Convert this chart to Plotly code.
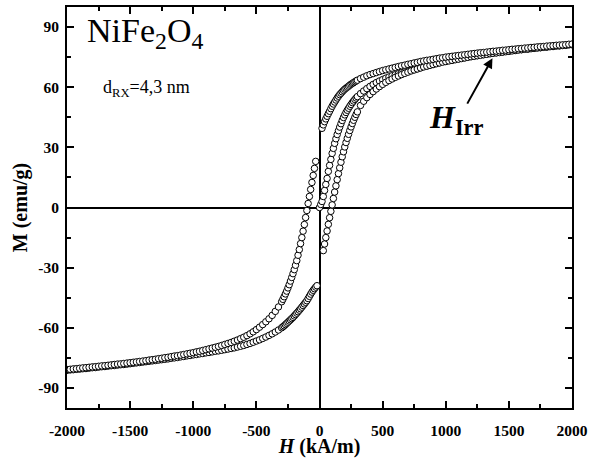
import plotly.graph_objects as go

# ---------------- data ----------------
# applied field grid (kA/m) shared by the descending and ascending branches
H_GRID = [
    -2000, -1975, -1950, -1925, -1900, -1875, -1850, -1825, -1800, -1775,
    -1750, -1725, -1700, -1675, -1650, -1625, -1600, -1575, -1550, -1525,
    -1500, -1475, -1450, -1425, -1400, -1375, -1350, -1325, -1300, -1275,
    -1250, -1225, -1200, -1175, -1150, -1125, -1100, -1075, -1050, -1025,
    -1000, -975, -950, -925, -900, -875, -850, -825, -800, -775,
    -750, -725, -700, -675, -650, -625, -600, -575, -550, -525,
    -500, -475, -450, -425, -400, -375, -350, -325,
    -300, -290, -280, -270, -260, -250, -240, -230, -220, -210,
    -200, -190, -180, -170, -160, -150, -140, -130, -120, -110,
    -100, -90, -80, -70, -60, -50, -40, -30, -20, -10,
    0, 10, 20, 30, 40, 50, 60, 70, 80, 90,
    100, 110, 120, 130, 140, 150, 160, 170, 180, 190,
    200, 210, 220, 230, 240, 250, 260, 270, 280, 290, 300,
    325, 350, 375, 400, 425, 450, 475, 500, 525, 550,
    575, 600, 625, 650, 675, 700, 725, 750, 775, 800,
    825, 850, 875, 900, 925, 950, 975, 1000, 1025, 1050,
    1075, 1100, 1125, 1150, 1175, 1200, 1225, 1250, 1275, 1300,
    1325, 1350, 1375, 1400, 1425, 1450, 1475, 1500, 1525, 1550,
    1575, 1600, 1625, 1650, 1675, 1700, 1725, 1750, 1775, 1800,
    1825, 1850, 1875, 1900, 1925, 1950, 1975, 2000,
]

# descending branch (from +2000 to -2000 kA/m), emu/g
M_DESC = [
    -80.8, -80.7, -80.5, -80.4, -80.2, -80.0, -79.9, -79.7, -79.5, -79.4,
    -79.2, -79.0, -78.9, -78.7, -78.5, -78.3, -78.1, -78.0, -77.8, -77.6,
    -77.4, -77.2, -77.0, -76.8, -76.6, -76.4, -76.1, -75.9, -75.7, -75.4,
    -75.2, -74.9, -74.7, -74.4, -74.1, -73.9, -73.6, -73.3, -73.0, -72.7,
    -72.4, -72.0, -71.7, -71.3, -70.9, -70.5, -70.1, -69.7, -69.3, -68.8,
    -68.3, -67.8, -67.3, -66.7, -66.1, -65.4, -64.7, -63.9, -63.0, -62.0,
    -60.9, -59.7, -58.4, -57.0, -55.5, -53.8, -51.8, -49.6,
    -47.0, -45.8, -44.5, -43.1, -41.7, -40.1, -38.5, -36.7, -34.9, -33.0,
    -31.0, -28.8, -26.5, -23.8, -21.0, -18.0, -15.0, -11.8, -8.5, -5.0,
    -1.5, 2.0, 5.5, 9.0, 12.5, 16.0, 19.5, 23.0, None, None,
    None, None, 39.5, 41.2, 42.8, 44.2, 45.5, 46.8, 48.0, 49.3,
    50.5, 51.6, 52.6, 53.6, 54.6, 55.5, 56.3, 57.0, 57.7, 58.4,
    59.0, 59.5, 60.0, 60.5, 61.0, 61.5, 61.9, 62.3, 62.7, 63.1, 63.5,
    64.3, 65.0, 65.7, 66.3, 66.8, 67.3, 67.8, 68.3, 68.7, 69.1,
    69.5, 69.9, 70.3, 70.7, 71.0, 71.4, 71.7, 72.1, 72.4, 72.8,
    73.1, 73.4, 73.6, 73.9, 74.2, 74.5, 74.7, 75.0, 75.2, 75.4,
    75.6, 75.8, 76.0, 76.2, 76.4, 76.6, 76.8, 77.0, 77.2, 77.3,
    77.5, 77.7, 77.9, 78.0, 78.2, 78.4, 78.5, 78.7, 78.9, 79.0,
    79.2, 79.3, 79.5, 79.6, 79.8, 79.9, 80.1, 80.2, 80.3, 80.5,
    80.6, 80.7, 80.9, 81.0, 81.1, 81.2, 81.4, 81.5,
]

# ascending branch (from -2000 to +2000 kA/m), emu/g
M_ASC = [
    -81.2, -81.0, -80.9, -80.7, -80.6, -80.4, -80.3, -80.1, -79.9, -79.8,
    -79.6, -79.4, -79.3, -79.1, -78.9, -78.8, -78.6, -78.4, -78.3, -78.1,
    -77.9, -77.7, -77.5, -77.3, -77.1, -76.9, -76.7, -76.5, -76.3, -76.1,
    -75.9, -75.7, -75.5, -75.2, -75.0, -74.8, -74.5, -74.3, -74.0, -73.8,
    -73.5, -73.3, -73.0, -72.8, -72.5, -72.3, -72.0, -71.7, -71.5, -71.2,
    -70.9, -70.6, -70.3, -70.0, -69.6, -69.2, -68.8, -68.3, -67.8, -67.2,
    -66.6, -66.0, -65.3, -64.6, -63.8, -63.0, -62.1, -61.1,
    -60.0, -59.5, -59.0, -58.4, -57.8, -57.2, -56.6, -56.0, -55.4, -54.8,
    -54.1, -53.4, -52.7, -52.0, -51.2, -50.5, -49.7, -48.9, -48.1, -47.3,
    -46.5, -45.4, -44.3, -43.2, -42.2, -41.3, -40.5, -39.7, -39.0, None,
    None, None, None, -21.5, -18.2, -15.0, -11.7, -8.4, -5.1, -1.9,
    1.3, 4.5, 7.7, 10.8, 13.9, 16.9, 19.8, 22.6, 25.3, 27.8,
    30.2, 32.4, 34.5, 36.5, 38.4, 40.2, 41.9, 43.5, 45.0, 46.4, 47.7,
    50.9, 53.0, 54.8, 56.4, 57.8, 59.1, 60.3, 61.4, 62.4, 63.3,
    64.1, 64.9, 65.6, 66.3, 66.9, 67.5, 68.1, 68.6, 69.1, 69.6,
    70.1, 70.5, 70.9, 71.3, 71.7, 72.1, 72.5, 72.8, 73.1, 73.4,
    73.7, 74.0, 74.3, 74.6, 74.9, 75.2, 75.4, 75.7, 75.9, 76.2,
    76.4, 76.7, 76.9, 77.1, 77.3, 77.5, 77.7, 77.9, 78.1, 78.3,
    78.5, 78.7, 78.9, 79.0, 79.2, 79.4, 79.5, 79.7, 79.9, 80.0,
    80.2, 80.3, 80.5, 80.6, 80.8, 80.9, 81.1, 81.2,
]

# initial (virgin) magnetisation curve
H_VIRGIN = [
    0, 10, 20, 30, 40, 50, 60, 70, 80, 90,
    100, 110, 120, 130, 140, 150, 160, 170, 180, 190,
    200, 210, 220, 230, 240, 250, 260, 270, 280, 290, 300,
    325, 350, 375, 400, 425, 450, 475, 500, 525, 550,
    575, 600, 625, 650, 675, 700, 725, 750, 775, 800,
    850, 900, 950, 1000, 1050, 1100, 1150, 1200, 1250, 1300,
    1350, 1400, 1450, 1500, 1550, 1600, 1650, 1700, 1750, 1800,
    1850, 1900, 1950, 2000,
]
M_VIRGIN = [
    0.0, 1.5, 3.0, 5.5, 8.5, 11.5, 14.5, 18.0, 21.0, 24.0,
    27.0, 29.5, 32.0, 34.3, 36.4, 38.3, 40.1, 41.8, 43.4, 44.9,
    46.2, 47.4, 48.5, 49.5, 50.5, 51.4, 52.3, 53.1, 53.9, 54.6, 55.3,
    56.8, 58.1, 59.3, 60.4, 61.4, 62.3, 63.1, 63.8, 64.5, 65.1,
    65.7, 66.2, 66.7, 67.2, 67.6, 68.0, 68.4, 68.8, 69.2, 69.7,
    70.6, 71.4, 72.2, 72.9, 73.5, 74.1, 74.7, 75.3, 75.8, 76.3,
    76.8, 77.2, 77.6, 78.0, 78.4, 78.8, 79.1, 79.5, 79.8, 80.1,
    80.4, 80.7, 81.0, 81.3,
]

X_TICKS = [-2000, -1500, -1000, -500, 0, 500, 1000, 1500, 2000]
X_TICK_TEXT = ["-2000", "-1500", "-1000", "-500", "0", "500", "1000", "1500", "2000"]
Y_TICKS = [-90, -60, -30, 0, 30, 60, 90]
Y_TICK_TEXT = ["-90", "-60", "-30", "0", "30", "60", "90"]

H_IRR_POINT = (1370, 74.5)

# ---------------- figure ----------------
FONT = "Liberation Serif, Times New Roman, serif"
marker = dict(symbol="circle", size=6.5, color="white",
              line=dict(color="black", width=1))

fig = go.Figure()
for name, hx, my in [("virgin", H_VIRGIN, M_VIRGIN),
                     ("ascending", H_GRID, M_ASC),
                     ("descending", H_GRID, M_DESC)]:
    fig.add_trace(go.Scatter(x=hx, y=my, mode="markers", name=name,
                             marker=marker, showlegend=False))

axis_common = dict(
    showline=True, linecolor="black", linewidth=2, mirror="allticks",
    ticks="inside", ticklen=7, tickwidth=1.5, tickcolor="black",
    showgrid=False, zeroline=True, zerolinecolor="black", zerolinewidth=2,
    automargin=False,
    tickfont=dict(family=FONT, size=15.5, color="black", weight="bold"),
)

fig.update_xaxes(
    range=[-2000, 2000], tickvals=X_TICKS, ticktext=X_TICK_TEXT,
    minor=dict(ticks="inside", ticklen=4, tickwidth=1.5, tickcolor="black",
               dtick=250, tick0=0),
    ticklabelstandoff=7,
    title=dict(text="<b><i>H</i> (kA/m)</b>", standoff=0,
               font=dict(family=FONT, size=20, color="black")),
    **axis_common,
)
fig.update_yaxes(
    range=[-100, 100], tickvals=Y_TICKS, ticktext=Y_TICK_TEXT,
    minor=dict(ticks="inside", ticklen=4, tickwidth=1.5, tickcolor="black",
               dtick=15, tick0=0),
    ticklabelstandoff=3,
    title=dict(text="<b>M (emu/g)</b>", standoff=5,
               font=dict(family=FONT, size=20, color="black")),
    **axis_common,
)

fig.add_annotation(
    xref="paper", yref="paper", x=0.036, y=0.935, xanchor="left", yanchor="middle",
    text="NiFe<sub>2</sub>O<sub>4</sub>", showarrow=False,
    font=dict(family=FONT, size=34, color="black"),
)
fig.add_annotation(
    xref="paper", yref="paper", x=0.068, y=0.797, xanchor="left", yanchor="middle",
    text="d<sub>RX</sub>=4,3 nm", showarrow=False,
    font=dict(family=FONT, size=18, color="black"),
)
fig.add_annotation(
    xref="paper", yref="paper", x=0.713, y=0.72, xanchor="left", yanchor="middle",
    text="<b><i>H</i></b><sub><b>Irr</b></sub>", showarrow=False,
    font=dict(family=FONT, size=32, color="black"),
)
fig.add_annotation(
    x=H_IRR_POINT[0], y=H_IRR_POINT[1], xref="x", yref="y",
    ax=-26, ay=47, axref="pixel", ayref="pixel",
    text="", showarrow=True, arrowhead=2, arrowsize=1, arrowwidth=2,
    arrowcolor="black", standoff=0, startstandoff=0,
)

fig.update_layout(
    width=589, height=458,
    margin=dict(l=67, r=17, t=7, b=50),
    paper_bgcolor="white", plot_bgcolor="white",
    font=dict(family=FONT, color="black"),
)

# remove the browser's default 8 px page margin so the figure fills the window
fig.write_html("out.html",
               config={"displayModeBar": False},
               post_script="document.body.style.margin='0px';")
